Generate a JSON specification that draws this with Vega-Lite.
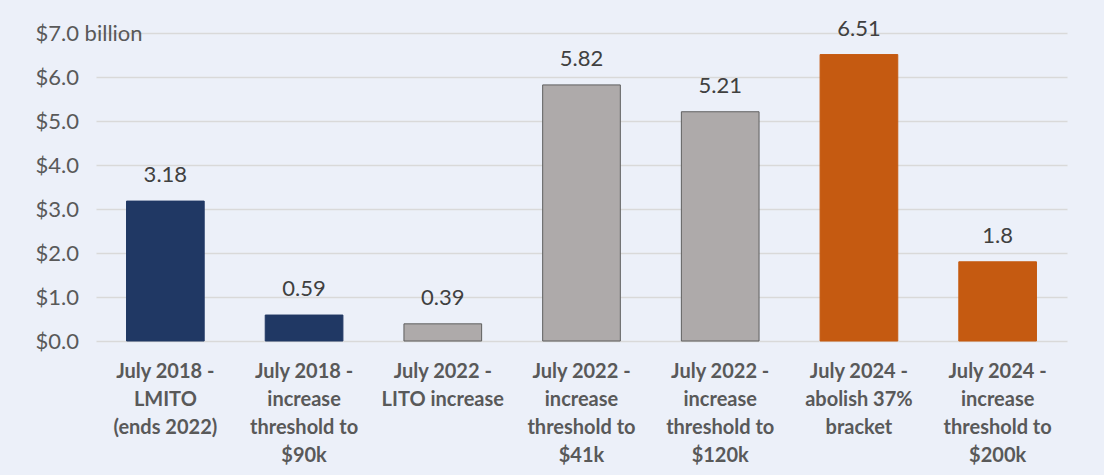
{
  "$schema": "https://vega.github.io/schema/vega-lite/v6.json",
  "width": 971,
  "height": 308,
  "autosize": {"type": "none"},
  "padding": {"left": 96, "top": 33, "right": 37, "bottom": 134},
  "background": "#ECF0F9",
  "config": {
    "view": {"stroke": null},
    "font": "Lato"
  },
  "data": {
    "values": [
      {"measure": "July 2018 -|LMITO|(ends 2022)", "group": "2018", "value": 3.18},
      {"measure": "July 2018 -|increase|threshold to|$90k", "group": "2018", "value": 0.59},
      {"measure": "July 2022 -|LITO increase", "group": "2022", "value": 0.39},
      {"measure": "July 2022 -|increase|threshold to|$41k", "group": "2022", "value": 5.82},
      {"measure": "July 2022 -|increase|threshold to|$120k", "group": "2022", "value": 5.21},
      {"measure": "July 2024 -|abolish 37%|bracket", "group": "2024", "value": 6.51},
      {"measure": "July 2024 -|increase|threshold to|$200k", "group": "2024", "value": 1.8}
    ]
  },
  "encoding": {
    "x": {
      "field": "measure",
      "type": "nominal",
      "sort": null,
      "title": null,
      "scale": {"paddingInner": 0.44, "paddingOuter": 0.22},
      "axis": {
        "labelAngle": 0,
        "labelExpr": "split(datum.label, '|')",
        "labelFont": "Lato",
        "labelFontWeight": "bold",
        "labelFontSize": 20,
        "labelLineHeight": 28,
        "labelColor": "#595959",
        "labelPadding": 20,
        "labelBaseline": "top",
        "domain": false,
        "ticks": false
      }
    },
    "y": {
      "field": "value",
      "type": "quantitative",
      "title": null,
      "scale": {"domain": [0, 7], "nice": false},
      "axis": {
        "values": [0, 1, 2, 3, 4, 5, 6, 7],
        "labelExpr": "datum.value == 7 ? '$7.0 billion' : '$' + format(datum.value, '.1f')",
        "labelAlign": "left",
        "labelBaseline": "middle",
        "labelPadding": 61,
        "labelFont": "Lato",
        "labelFontSize": 22,
        "labelColor": "#595959",
        "domain": false,
        "ticks": false,
        "grid": true,
        "gridColor": "#D9D9D9",
        "gridWidth": 1.5
      }
    }
  },
  "layer": [
    {
      "mark": {"type": "bar", "strokeWidth": 1},
      "encoding": {
        "fill": {
          "field": "group",
          "type": "nominal",
          "scale": {"domain": ["2018", "2022", "2024"], "range": ["#203864", "#AEAAAA", "#C55A11"]},
          "legend": null
        },
        "stroke": {
          "field": "group",
          "type": "nominal",
          "scale": {"domain": ["2018", "2022", "2024"], "range": ["#203864", "#5F5F5F", "#C55A11"]},
          "legend": null
        }
      }
    },
    {
      "mark": {"type": "text", "baseline": "middle", "dy": -26, "fontSize": 22, "color": "#404040", "font": "Lato"},
      "encoding": {
        "text": {"field": "value", "type": "nominal"}
      }
    }
  ]
}
